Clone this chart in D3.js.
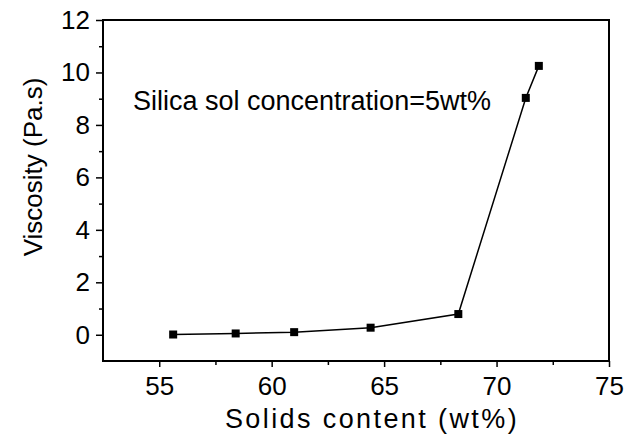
<!DOCTYPE html>
<html lang="en">
  <head>
    <meta charset="UTF-8" />
    <title>Viscosity vs solids content</title>
    <script src="https://d3js.org/d3.v7.min.js"></script>
    <style>
      body {
        margin: 0;
        background: white;
      }
      text {
        font-family: "Liberation Sans", Arial, sans-serif;
        fill: black;
      }
    </style>
  </head>
  <body>
    <div id="chart"></div>
    <script>
      // data
      const solids = [55.62, 58.4, 61.0, 64.4, 68.3, 71.3, 71.88];
      const viscosity = [0.01, 0.05, 0.1, 0.27, 0.79, 9.03, 10.25];
      const xTicks = [55, 60, 65, 70, 75];
      const yTicks = [0, 2, 4, 6, 8, 10, 12];
      const note = "Silica sol concentration=5wt%";

      const width = 635;
      const height = 440;
      const margin = { top: 20, right: 26, bottom: 79, left: 103 };

      const svg = d3
        .select("#chart")
        .append("svg")
        .attr("width", width)
        .attr("height", height);

      const x = d3
        .scaleLinear()
        .domain([52.5, 75])
        .range([margin.left, width - margin.right]);
      const y = d3
        .scaleLinear()
        .domain([-1, 12])
        .range([height - margin.bottom, margin.top]);

      // frame
      svg
        .append("rect")
        .attr("x", x(52.5))
        .attr("y", y(12))
        .attr("width", x(75) - x(52.5))
        .attr("height", y(-1) - y(12))
        .attr("fill", "none")
        .attr("stroke", "black")
        .attr("stroke-width", 2);

      // minor ticks
      const xMinor = [57.5, 62.5, 67.5, 72.5];
      const yMinor = [1, 3, 5, 7, 9, 11];
      svg
        .append("g")
        .attr("transform", `translate(0,${y(-1)})`)
        .call(d3.axisBottom(x).tickValues(xMinor).tickSize(4).tickFormat(""))
        .call((g) => g.select(".domain").remove())
        .selectAll("line")
        .attr("stroke-width", 1.5);
      svg
        .append("g")
        .attr("transform", `translate(${x(52.5)},0)`)
        .call(d3.axisLeft(y).tickValues(yMinor).tickSize(4).tickFormat(""))
        .call((g) => g.select(".domain").remove())
        .selectAll("line")
        .attr("stroke-width", 1.5);

      // major axes
      const xAxis = svg
        .append("g")
        .attr("transform", `translate(0,${y(-1)})`)
        .call(d3.axisBottom(x).tickValues(xTicks).tickSize(6).tickPadding(10));
      xAxis.select(".domain").remove();
      xAxis.selectAll("line").attr("stroke-width", 1.5);
      xAxis.selectAll("text").style("font-size", "26px");

      const yAxis = svg
        .append("g")
        .attr("transform", `translate(${x(52.5)},0)`)
        .call(d3.axisLeft(y).tickValues(yTicks).tickSize(7).tickPadding(6));
      yAxis.select(".domain").remove();
      yAxis.selectAll("line").attr("stroke-width", 1.5);
      yAxis.selectAll("text").style("font-size", "26px");

      // series
      const pts = solids.map((d, i) => [d, viscosity[i]]);
      svg
        .append("path")
        .datum(pts)
        .attr("fill", "none")
        .attr("stroke", "black")
        .attr("stroke-width", 1.5)
        .attr(
          "d",
          d3
            .line()
            .x((d) => x(d[0]))
            .y((d) => y(d[1]))
        );
      svg
        .selectAll("rect.pt")
        .data(pts)
        .enter()
        .append("rect")
        .attr("class", "pt")
        .attr("x", (d) => x(d[0]) - 4)
        .attr("y", (d) => y(d[1]) - 4)
        .attr("width", 8)
        .attr("height", 8)
        .attr("fill", "black");

      // labels
      svg
        .append("text")
        .attr("x", 133)
        .attr("y", 110)
        .style("font-size", "27px")
        .text(note);

      svg
        .append("text")
        .attr("x", 372)
        .attr("y", 428)
        .attr("text-anchor", "middle")
        .style("font-size", "27px")
        .style("letter-spacing", "2.4px")
        .text("Solids content (wt%)");

      svg
        .append("text")
        .attr("transform", `translate(42,167) rotate(-90)`)
        .attr("text-anchor", "middle")
        .style("font-size", "26px")
        .text("Viscosity (Pa.s)");
    </script>
  </body>
</html>
